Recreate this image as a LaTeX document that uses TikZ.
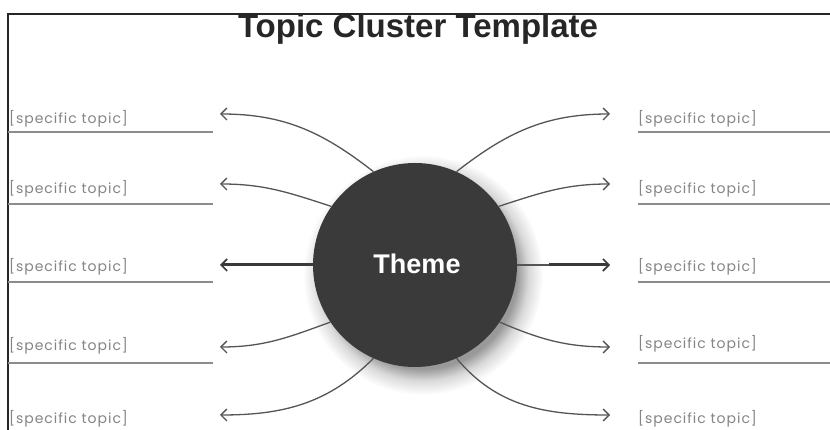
\documentclass[tikz,border=0pt]{standalone}
\usepackage{fontspec}
\setmainfont{Liberation Sans}
\newfontfamily\labfont[LetterSpace=7]{Poppins}
\usetikzlibrary{arrows.meta}
\definecolor{themefill}{HTML}{3A3A3A}
\definecolor{linegray}{HTML}{555555}
\definecolor{labgray}{HTML}{858585}
\definecolor{rulegray}{HTML}{8C8C8C}
\pgfdeclareradialshading{circshadow}{\pgfpoint{0bp}{0bp}}{%
  color(0bp)=(black!40); color(19.5bp)=(black!40); color(22bp)=(black!15); color(25bp)=(white); color(50bp)=(white)}
\tikzset{
  labeltext/.style={font=\labfont\fontsize{14}{16}\selectfont, text=labgray, inner sep=0pt},
  underline/.style={draw=rulegray, line width=1.3pt},
  thinarrow/.style={draw=linegray, line width=1.3pt, -{Straight Barb[length=6pt,width=12pt,line width=1.3pt]}},
  thickarrow/.style={draw=themefill, line width=3pt, -{Straight Barb[length=6pt,width=12pt,line width=1.6pt]}},
  frameline/.style={draw=black!85, line width=2pt},
  themecircle/.style={circle, fill=themefill, minimum size=204pt, inner sep=0pt},
}
\begin{document}
\begin{tikzpicture}[x=1pt,y=1pt]
\useasboundingbox (0,0) rectangle (830,430);
\fill[white] (0,0) rectangle (830,430);
% title (touching the frame line)
\begin{scope}
  \clip (0,0) rectangle (830,415);
  \node[anchor=base, font=\bfseries\fontsize{33}{38}\selectfont, text=black!85, inner sep=0pt] (title) at (418,392.5) {Topic Cluster Template};
\end{scope}
\draw[frameline] (8,0) -- (8,416) -- (830,416);
% soft shadow of the theme circle
\shade[shading=circshadow] (423,155) circle[radius=120];
% theme circle
\node[themecircle] (C) at (415,165) {};
\node[font=\bfseries\fontsize{27}{30}\selectfont, text=white, inner sep=0pt] (theme) at (417,166) {Theme};
% labels left
\node[labeltext, anchor=west] (L1) at (9,311) {[specific topic]};
\node[labeltext, anchor=west] (L2) at (9,241) {[specific topic]};
\node[labeltext, anchor=west] (L3) at (9,163) {[specific topic]};
\node[labeltext, anchor=west] (L4) at (9,84) {[specific topic]};
\node[labeltext, anchor=west] (L5) at (9,11) {[specific topic]};
% labels right
\node[labeltext, anchor=west] (R1) at (638,311) {[specific topic]};
\node[labeltext, anchor=west] (R2) at (638,241) {[specific topic]};
\node[labeltext, anchor=west] (R3) at (638,163) {[specific topic]};
\node[labeltext, anchor=west] (R4) at (638,86) {[specific topic]};
\node[labeltext, anchor=west] (R5) at (638,11) {[specific topic]};
% underlines
\foreach \yy in {298,226,148,67}{
  \draw[underline] (8,\yy) -- (213,\yy);
  \draw[underline] (638,\yy) -- (830,\yy);
}
% arrow tips
\coordinate (lt1) at (220,316);
\coordinate (lt2) at (220,246);
\coordinate (lt3) at (220,165);
\coordinate (lt4) at (220,83);
\coordinate (lt5) at (220,15);
\coordinate (rt1) at (610,316);
\coordinate (rt2) at (610,246);
\coordinate (rt3) at (610,165);
\coordinate (rt4) at (610,83);
\coordinate (rt5) at (610,15);
\coordinate (rmid) at (549,165);
% connectors
\draw[thinarrow] (C.114) to[out=142,in=0] (lt1);
\draw[thinarrow] (C.145) to[out=162,in=0] (lt2);
\draw[thickarrow] (C.west) -- (lt3);
\draw[thinarrow] (C.214) to[out=200,in=0] (lt4);
\draw[thinarrow] (C.246) to[out=225,in=0] (lt5);
\draw[thinarrow] (C.66) to[out=38,in=180] (rt1);
\draw[thinarrow] (C.35) to[out=18,in=180] (rt2);
\draw[draw=linegray, line width=1.3pt] (C.east) -- (rmid);
\draw[thickarrow] (rmid) -- (rt3);
\draw[thinarrow] (C.-34) to[out=-23,in=180] (rt4);
\draw[thinarrow] (C.-66) to[out=-50,in=180] (rt5);
\end{tikzpicture}
\end{document}
